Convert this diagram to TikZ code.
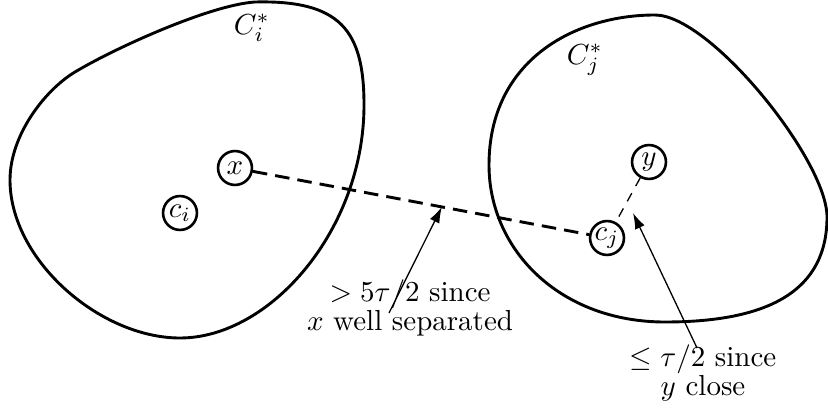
\documentclass[tikz,border=0pt]{standalone}
\usetikzlibrary{arrows.meta,calc}
\begin{document}
\begin{tikzpicture}[x=0.345pt,y=-0.345pt,
  blob/.style={line width=1pt, line join=round},
  pt/.style={circle, draw, line width=0.9pt, minimum size=11.7pt, inner sep=0pt},
  far/.style={line width=1pt, dash pattern=on 5pt off 2.8pt},
  near/.style={line width=0.45pt, dash pattern=on 3.2pt off 2.8pt},
  ptr/.style={line width=0.45pt, -{Latex[length=5.5pt,width=3.6pt]}},
  lab/.style={align=center, inner sep=0pt, font=\fontsize{10}{10.3}\selectfont}]
\useasboundingbox (0,0) rectangle (828,410);
% left cluster
\draw[blob] (255,2) .. controls (340,0) and (364,30) .. (364,105)
  .. controls (364,230) and (270,338) .. (180,338)
  .. controls (100,338) and (10,260) .. (10,180)
  .. controls (10,135) and (45,90) .. (75,72)
  .. controls (115,48) and (210,5) .. (255,2) -- cycle;
% right cluster
\draw[blob] (655,15) .. controls (710,15) and (827,160) .. (827,217)
  .. controls (827,290) and (770,322) .. (665,322)
  .. controls (560,322) and (489,250) .. (489,165)
  .. controls (489,60) and (575,15) .. (655,15) -- cycle;
\node (Ci) at (252,28) {$C_i^*$};
\node (Cj) at (585,60) {$C_j^*$};
\node[pt] (x) at (235,168) {$x$};
\node[pt] (ci) at (180,213) {$c_i$};
\node[pt] (y) at (649,162) {$y$};
\node[pt] (cj) at (607,238) {$c_j$};
\draw[far] (x) -- (cj);
\draw[near] (y) -- (cj);
\node[lab] (l1) at (410,308) {$>5\tau/2$ since\\$x$ well separated};
\node[lab] (l2) at (703,373) {$\leq\tau/2$ since\\$y$ close};
\coordinate (a1) at (389,313);
\coordinate (h1) at ($(x)!0.556!(cj)$);
\draw[ptr] (a1) -- (h1);
\coordinate (a2) at (697,348);
\coordinate (h2) at (633,213);
\draw[ptr] (a2) -- (h2);
\end{tikzpicture}
\end{document}
